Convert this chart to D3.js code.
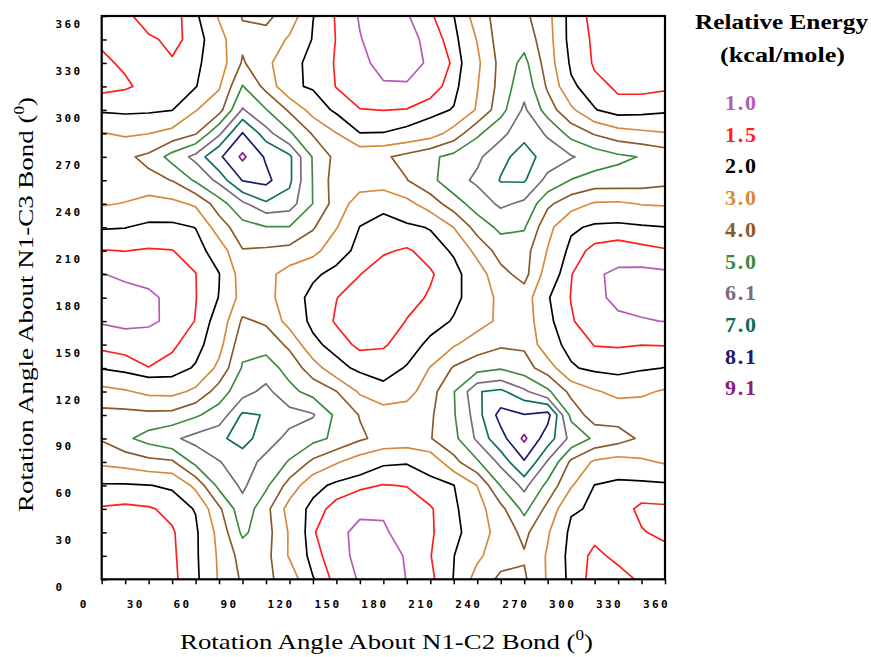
<!DOCTYPE html>
<html>
<head>
<meta charset="utf-8">
<script src="https://cdn.jsdelivr.net/npm/d3@7/dist/d3.min.js"></script>
<style>
html,body{margin:0;padding:0;background:#fff;}
svg{display:block;}
</style>
</head>
<body>
<svg id="chart" width="871" height="657"></svg>
<script>
// ---- data ----
const angleStep = 15;
const rotationAngles = [0,15,30,45,60,75,90,105,120,135,150,165,180,195,210,225,240,255,270,285,300,315,330,345,360]; // N1-C2 (x)
const rowAngles = [360,345,330,315,300,285,270,255,240,225,210,195,180,165,150,135,120,105,90,75,60,45,30,15,0]; // N1-C3 (y)
const tickLabels = [0,30,60,90,120,150,180,210,240,270,300,330,360];

// relative energy (kcal/mole), one row per N1-C3 angle, columns follow rotationAngles
const e360 = [1.65,1.6,1.3,1.28,1.83,3.1,4.05,4.2,3.6,2.02,1.45,0.95,0.75,0.95,1.42,1.98,3.5,4.44,4.22,3.3,1.65,1.42,1.3,1.3,1.3];
const e345 = [1.55,1.6,1.56,1.42,1.6,2.65,3.8,3.7,2.85,1.95,1.48,1.03,0.72,0.76,1.21,1.75,3.05,4.48,4.6,3.4,1.65,1.46,1.3,1.25,1.25];
const e330 = [1.44,1.55,1.62,1.53,1.85,2.45,4.1,3.3,2.18,1.85,1.45,1.12,0.85,0.8,1.08,1.58,2.8,4.3,5.3,3.5,1.85,1.45,1.3,1.25,1.25];
const e315 = [1.35,1.45,1.6,1.75,1.95,2.9,5.05,3.7,2.16,1.89,1.48,1.15,1.05,1.05,1.25,1.75,2.95,4.35,5.7,3.85,2.15,1.6,1.45,1.4,1.42];
const e300 = [1.88,1.82,1.85,1.97,2.95,3.6,6.2,5.05,3.85,2.6,1.8,1.52,1.49,1.52,1.75,2.05,3.1,4.6,6.3,4.5,3.2,2.05,1.6,1.7,1.85];
const e285 = [3.05,2.85,2.98,3.3,3.9,5.9,8.15,6.5,5.15,3.9,3.02,2.01,2.02,2.2,2.5,3.4,4.8,5.8,6.8,5.95,4.6,3.9,3.4,3.2,3.05];
const e270 = [3.75,3.85,4.2,5.4,6.4,7.9,9.3,7.95,7.2,4.9,3.7,3.75,3.85,4.3,4.8,5.3,5.9,6.8,7.3,6.7,6.2,5.6,5.2,4.95,4.6];
const e255 = [3.45,3.6,3.8,4.02,5.15,6.4,8.15,8.4,7.2,4.95,3.5,3.5,3.6,3.97,4.7,5.7,6.3,7.05,7.1,5.8,4.95,4.6,4.6,4.5,4.3];
const e240 = [3.1,2.95,2.55,2.75,3.15,4.5,5.9,6.85,6.6,4.98,3.55,2.5,2.15,2.7,3.5,4.5,5.5,6.3,5.9,4.2,3.4,2.9,2.85,3.05,3.1];
const e225 = [2.05,2.02,1.85,1.8,2.02,3.5,4.6,4.95,4.95,4.1,3.05,1.98,1.8,1.85,2.05,3.02,4.4,5.25,5.1,3.3,2.15,1.85,1.8,1.9,1.98];
const e210 = [1.48,1.51,1.46,1.49,1.65,2.45,3.95,3.85,3.7,3.3,2.4,1.75,1.55,1.45,1.65,2.1,3.3,4.4,4.4,2.95,1.75,1.35,1.25,1.35,1.45];
const e195 = [0.98,1.1,1.2,1.3,1.49,1.97,3.45,3.3,2.6,2.15,1.75,1.51,1.3,1.3,1.45,1.75,2.5,3.7,4.35,2.5,1.52,1.07,0.9,0.85,0.9];
const e180 = [0.85,0.8,0.88,1.15,1.48,2.02,3.35,3.35,2.45,1.75,1.51,1.3,1.25,1.35,1.55,1.85,2.3,3.3,3.5,2.05,1.48,1.1,0.9,0.85,0.9];
const e165 = [0.95,0.85,0.9,1.12,1.52,2.3,4.15,3.85,2.6,1.8,1.45,1.2,1.2,1.52,1.75,2.05,2.6,3.2,3.6,2.15,1.55,1.2,1.08,1.03,0.99];
const e150 = [1.35,1.3,1.3,1.45,1.65,2.65,4.7,4.6,3.8,2.2,1.7,1.4,1.45,1.7,2.15,2.9,3.5,3.85,3.85,2.35,1.75,1.48,1.47,1.49,1.47];
const e135 = [1.95,1.75,1.51,1.6,2.1,3.25,5.1,5.5,4.6,3.5,2.3,1.8,1.75,2.05,3.05,4.1,4.6,4.9,4.4,3.5,2.1,1.8,1.7,1.9,2.02];
const e120 = [3.3,3.1,2.75,2.7,3.2,4.45,5.7,6.4,5.3,4.6,4.02,2.85,2.2,2.6,3.6,4.95,6.95,7.2,6.3,5.2,3.7,3.1,2.75,2.85,3.1];
const e105 = [4.3,4.3,4.25,4.3,4.85,5.5,7.15,6.95,6.5,6.2,4.75,3.95,3.6,3.55,3.85,4.9,6.6,8.5,8.15,8.5,4.7,3.45,3.6,3.5,3.4];
const e90  = [4.1,4.8,5.4,5.9,6.45,6.85,7.3,6.6,5.8,5.3,4.8,4.15,3.7,3.6,3.95,4.7,6.3,7.7,9.3,7.5,5.8,4.8,4.4,3.85,3.5];
const e75  = [3.2,3.4,3.7,3.85,5.3,6.05,6.6,5.8,4.9,3.8,3.1,2.5,2.1,2.05,2.3,3.7,4.85,6.4,8.0,6.0,3.8,2.85,2.6,2.85,3.1];
const e60  = [1.9,1.9,1.98,2.1,3.25,5.3,6.3,5.2,3.6,2.3,1.8,1.6,1.48,1.52,1.8,1.98,3.02,5.05,6.4,4.7,3.1,1.98,1.8,1.8,1.85];
const e45  = [1.45,1.4,1.45,1.62,2.05,3.8,5.7,4.3,2.6,1.75,1.3,1.08,1.05,1.2,1.45,1.85,2.6,3.7,5.3,3.7,2.1,1.9,1.7,1.4,1.42];
const e30  = [1.3,1.25,1.3,1.45,1.85,3.3,5.2,4.4,2.9,1.55,1.1,0.9,0.95,1.15,1.45,1.75,2.5,3.4,4.25,3.1,1.8,1.6,1.6,1.53,1.4];
const e15  = [1.25,1.2,1.25,1.42,1.85,3.15,4.4,4.3,2.9,1.7,1.2,0.85,0.75,1.05,1.48,1.98,2.8,3.6,3.9,2.9,1.7,1.42,1.58,1.62,1.65];
const e0   = [1.25,1.2,1.25,1.4,1.8,3.1,4.15,4.2,3.6,2.05,1.3,0.95,0.8,1.01,1.38,2.02,3.4,4.2,4.15,2.9,1.75,1.35,1.38,1.55,1.62];

const levels = [1.0,1.5,2.0,3.0,4.0,5.0,6.1,7.0,8.1,9.1];
const levelText = ["1.0","1.5","2.0","3.0","4.0","5.0","6.1","7.0","8.1","9.1"];
const levelColors = ["#b55ab8","#ff1f1f","#000000","#d58a3c","#8a5a2a","#3e8a3e","#7a6a7c","#0f6e60","#1c1c6c","#8c1c7e"];

// ---- layout ----
const W = 871, H = 657;
const plot = {left:101.7, right:665, top:16, bottom:579.3};
const svg = d3.select("#chart");
svg.append("rect").attr("width",W).attr("height",H).attr("fill","#fff");

const x = d3.scaleLinear().domain([0,360]).range([plot.left, plot.right]);
const y = d3.scaleLinear().domain([0,360]).range([plot.bottom, plot.top]);

svg.append("defs").append("clipPath").attr("id","plotClip")
  .append("rect").attr("x",plot.left).attr("y",plot.top)
  .attr("width",plot.right-plot.left).attr("height",plot.bottom-plot.top);

// ---- contours ----
const energyRows = [e360,e345,e330,e315,e300,e285,e270,e255,e240,e225,e210,e195,e180,e165,e150,e135,e120,e105,e90,e75,e60,e45,e30,e15,e0];
const nx = rotationAngles.length, ny = rowAngles.length;
const values = energyRows.flat();
const contours = d3.contours().size([nx, ny]).thresholds(levels)(values);

const proj = d3.geoTransform({
  point(px, py) {
    this.stream.point(
      x(rotationAngles[0] + (px - 0.5) * angleStep),
      y(rowAngles[0] - (py - 0.5) * angleStep)
    );
  }
});
const path = d3.geoPath(proj);

const gc = svg.append("g").attr("clip-path","url(#plotClip)");
contours.forEach((c, i) => {
  gc.append("path")
    .attr("d", path(c))
    .attr("fill","none")
    .attr("stroke", levelColors[i])
    .attr("stroke-width", 1.7)
    .attr("stroke-linejoin","round");
});

// ---- axes ----
const tickFont = "'DejaVu Sans Mono', monospace";
const xAxis = d3.axisBottom(x).tickValues(rotationAngles).tickSizeInner(5).tickSizeOuter(0)
  .tickFormat(d => tickLabels.includes(d) ? String(d) : "");
const gx = svg.append("g").attr("transform",`translate(0,${plot.bottom})`).call(xAxis);
gx.select(".domain").remove();
gx.selectAll(".tick line").attr("stroke","#000").attr("stroke-width",1.5);
gx.selectAll(".tick text")
  .attr("text-anchor","start").attr("x",-22.5).attr("y",29).attr("dy",null)
  .attr("font-family",tickFont).attr("font-weight","bold").attr("font-size",11)
  .attr("letter-spacing","2.4px").attr("fill","#000");

const yAxis = d3.axisLeft(y).tickValues(rotationAngles).tickSizeInner(-5).tickSizeOuter(0)
  .tickFormat(d => tickLabels.includes(d) ? String(d) : "");
const gy = svg.append("g").attr("transform",`translate(${plot.left},0)`).call(yAxis);
gy.select(".domain").remove();
gy.selectAll(".tick line").attr("stroke","#000").attr("stroke-width",1.5);
gy.selectAll(".tick text")
  .attr("text-anchor","start").attr("x",55.5-plot.left).attr("y",11.5).attr("dy",null)
  .attr("font-family",tickFont).attr("font-weight","bold").attr("font-size",11)
  .attr("letter-spacing","2.4px").attr("fill","#000");

// frame
svg.append("rect").attr("x",plot.left).attr("y",plot.top)
  .attr("width",plot.right-plot.left).attr("height",plot.bottom-plot.top)
  .attr("fill","none").attr("stroke","#000").attr("stroke-width",2.2);

// ---- titles ----
const serif = "'Liberation Serif', 'DejaVu Serif', serif";
function axisTitle(sel, label, len) {
  const t = sel.append("text").attr("font-family",serif).attr("font-size",22).attr("fill","#000")
    .attr("textLength",len).attr("lengthAdjust","spacingAndGlyphs");
  t.append("tspan").text(label + " (");
  t.append("tspan").attr("font-size",14).attr("dy",-9).text("0");
  t.append("tspan").attr("dy",9).text(")");
  return t;
}
axisTitle(svg.append("g").attr("transform","translate(180,649)"), "Rotation Angle About N1-C2 Bond", 413);
axisTitle(svg.append("g").attr("transform","translate(33,512) rotate(-90)"), "Rotation Angle About N1-C3 Bond", 415);

// ---- legend ----
svg.append("text").attr("x",695).attr("y",29).attr("font-family",serif).attr("font-weight","bold")
  .attr("font-size",20).attr("textLength",173).attr("lengthAdjust","spacingAndGlyphs").text("Relative Energy");
svg.append("text").attr("x",720).attr("y",61.5).attr("font-family",serif).attr("font-weight","bold")
  .attr("font-size",20).attr("textLength",125).attr("lengthAdjust","spacingAndGlyphs").text("(kcal/mole)");
svg.append("g").selectAll("text").data(levelText).join("text")
  .attr("x",725).attr("y",(d,i) => 110 + 31.7*i)
  .attr("font-family",serif).attr("font-weight","bold").attr("font-size",22)
  .attr("textLength",31).attr("lengthAdjust","spacing")
  .attr("fill",(d,i) => levelColors[i]).text(d => d);
</script>
</body>
</html>
